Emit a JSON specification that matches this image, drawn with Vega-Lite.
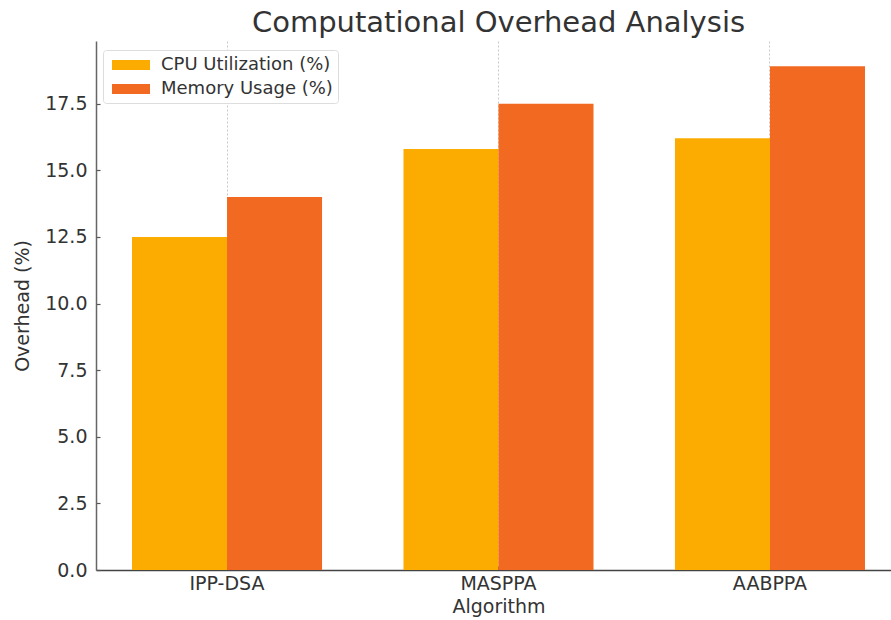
{
  "$schema": "https://vega.github.io/schema/vega-lite/v6.json",
  "autosize": {"type": "none"},
  "width": 795,
  "height": 529,
  "padding": {"left": 96, "top": 41, "right": 0, "bottom": 50},
  "background": "white",
  "title": {
    "text": "Computational Overhead Analysis",
    "font": "DejaVu Sans",
    "fontSize": 29,
    "fontWeight": "normal",
    "color": "#333333",
    "anchor": "middle",
    "frame": "group",
    "baseline": "alphabetic",
    "offset": -20,
    "dx": 5
  },
  "config": {
    "view": {"stroke": null},
    "font": "DejaVu Sans"
  },
  "data": {
    "values": [
      {"algorithm": "IPP-DSA", "metric": "CPU Utilization (%)", "value": 12.5},
      {"algorithm": "IPP-DSA", "metric": "Memory Usage (%)", "value": 14.0},
      {"algorithm": "MASPPA", "metric": "CPU Utilization (%)", "value": 15.8},
      {"algorithm": "MASPPA", "metric": "Memory Usage (%)", "value": 17.5},
      {"algorithm": "AABPPA", "metric": "CPU Utilization (%)", "value": 16.2},
      {"algorithm": "AABPPA", "metric": "Memory Usage (%)", "value": 18.9}
    ]
  },
  "mark": {"type": "bar"},
  "encoding": {
    "x": {
      "field": "algorithm",
      "type": "nominal",
      "sort": ["IPP-DSA", "MASPPA", "AABPPA"],
      "scale": {"range": [0, 805], "paddingInner": 0.3, "paddingOuter": 0.1326},
      "axis": {
        "title": "Algorithm",
        "titleFont": "DejaVu Sans",
        "titleFontSize": 19,
        "titleFontWeight": "normal",
        "titleColor": "#333333",
        "titlePadding": 4,
        "labelAngle": 0,
        "labelFont": "DejaVu Sans",
        "labelFontSize": 19,
        "labelColor": "#333333",
        "labelPadding": 8,
        "bandPosition": 0.5,
        "ticks": true,
        "tickSize": -4,
        "tickColor": "#444444",
        "tickWidth": 1.2,
        "domainColor": "#444444",
        "domainWidth": 1.5,
        "grid": true,
        "gridColor": "#c8c8c8",
        "gridDash": [2, 2],
        "gridWidth": 1
      }
    },
    "xOffset": {
      "field": "metric",
      "type": "nominal",
      "sort": ["CPU Utilization (%)", "Memory Usage (%)"],
      "scale": {"paddingInner": 0, "paddingOuter": 0}
    },
    "y": {
      "field": "value",
      "type": "quantitative",
      "scale": {"domain": [0, 19.85], "nice": false, "zero": true},
      "axis": {
        "title": "Overhead (%)",
        "titleFont": "DejaVu Sans",
        "titleFontSize": 19,
        "titleFontWeight": "normal",
        "titleColor": "#333333",
        "titlePadding": 12,
        "values": [0, 2.5, 5, 7.5, 10, 12.5, 15, 17.5],
        "format": ".1f",
        "labelFont": "DejaVu Sans",
        "labelFontSize": 19,
        "labelColor": "#333333",
        "labelPadding": 13,
        "ticks": true,
        "tickSize": -4,
        "tickColor": "#555555",
        "tickWidth": 1.2,
        "domainColor": "#666666",
        "domainWidth": 1.5,
        "grid": false
      }
    },
    "color": {
      "field": "metric",
      "type": "nominal",
      "sort": ["CPU Utilization (%)", "Memory Usage (%)"],
      "scale": {
        "domain": ["CPU Utilization (%)", "Memory Usage (%)"],
        "range": ["#FCAC00", "#F26A21"]
      },
      "legend": {
        "title": null,
        "orient": "none",
        "legendX": 7,
        "legendY": 9,
        "labelFont": "DejaVu Sans",
        "labelFontSize": 18,
        "labelColor": "#333333",
        "labelLimit": 400,
        "symbolType": "M-1.9,-0.5H1.9V0.5H-1.9Z",
        "symbolSize": 400,
        "symbolStrokeWidth": 0,
        "symbolOffset": 13,
        "labelOffset": 20,
        "rowPadding": 5,
        "padding": 5,
        "strokeColor": "#dddddd",
        "fillColor": "white",
        "cornerRadius": 3
      }
    }
  }
}
